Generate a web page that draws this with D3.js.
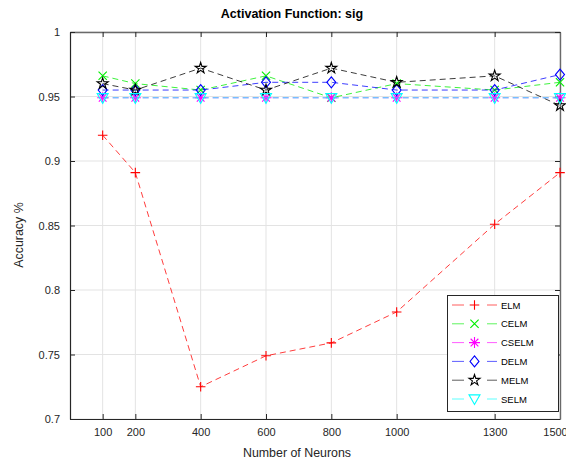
<!DOCTYPE html>
<html><head><meta charset="utf-8">
<script src="https://cdn.jsdelivr.net/npm/d3@7"></script>
<style>body{margin:0;background:#fff}text{font-family:"Liberation Sans",Arial,sans-serif}</style>
</head><body><svg id="c" width="566" height="463"></svg>
<script>
const neurons = [100, 200, 400, 600, 800, 1000, 1300, 1500];
const xTicks = [100, 200, 400, 600, 800, 1000, 1300, 1500];
const yTicks = [0.7, 0.75, 0.8, 0.85, 0.9, 0.95, 1];
const seriesNames = ["ELM", "CELM", "CSELM", "DELM", "MELM", "SELM"];
const elm   = [0.920, 0.891, 0.725, 0.749, 0.759, 0.783, 0.851, 0.891];
const celm  = [0.966, 0.960, 0.955, 0.966, 0.949, 0.960, 0.955, 0.961];
const cselm = [0.949, 0.949, 0.949, 0.949, 0.949, 0.949, 0.949, 0.949];
const delm  = [0.955, 0.955, 0.955, 0.961, 0.961, 0.955, 0.955, 0.967];
const melm  = [0.960, 0.955, 0.972, 0.955, 0.972, 0.961, 0.966, 0.943];
const selm  = [0.949, 0.949, 0.949, 0.949, 0.949, 0.949, 0.949, 0.949];
const seriesValues = [elm, celm, cselm, delm, melm, selm];
const colors = ["#ff0000", "#00ee00", "#ff00ff", "#0000ff", "#000000", "#00ffff"];
const markers = ["plus", "x", "star", "diamond", "pentagram", "tridown"];

const svg = d3.select("#c");
const L = 70, R = 560, T = 32, B = 419;
const x = d3.scaleLinear().domain([0, 1500]).range([L, R]);
const y = d3.scaleLinear().domain([0.7, 1]).range([B, T]);

// grid
const g = svg.append("g");
g.selectAll(".gx").data(xTicks).enter().append("line")
  .attr("x1", d => x(d)).attr("x2", d => x(d)).attr("y1", T).attr("y2", B)
  .attr("stroke", "#e3e3e3").attr("stroke-width", 1);
g.selectAll(".gy").data(yTicks).enter().append("line")
  .attr("y1", d => y(d)).attr("y2", d => y(d)).attr("x1", L).attr("x2", R)
  .attr("stroke", "#e3e3e3").attr("stroke-width", 1);

// axes
const tickC = "#262626";
const ax = svg.append("g").attr("transform", `translate(0,${B})`)
  .call(d3.axisBottom(x).tickValues(xTicks).tickSizeInner(-5).tickSizeOuter(0).tickPadding(9).tickFormat(d3.format("d")));
const axT = svg.append("g").attr("transform", `translate(0,${T})`)
  .call(d3.axisTop(x).tickValues(xTicks).tickSizeInner(-5).tickSizeOuter(0).tickFormat(""));
const ay = svg.append("g").attr("transform", `translate(${L},0)`)
  .call(d3.axisLeft(y).tickValues(yTicks).tickSizeInner(-5).tickSizeOuter(0).tickPadding(10).tickFormat(d => d3.format("")(+d.toFixed(2))));
const ayR = svg.append("g").attr("transform", `translate(${R},0)`)
  .call(d3.axisRight(y).tickValues(yTicks).tickSizeInner(-5).tickSizeOuter(0).tickFormat(""));
[ax, ay].forEach(a => a.select(".domain").attr("stroke", tickC).attr("stroke-width", 1.2));
[axT, ayR].forEach(a => a.select(".domain").attr("stroke", "#6a6a6a").attr("stroke-width", 1.4));
[ax, axT, ay, ayR].forEach(a => {
  a.selectAll(".tick line").attr("stroke", tickC);
  a.selectAll("text").attr("fill", "#262626").style("font-size", "11px");
});
// last x label sits against the right edge, as in the reference
ax.selectAll(".tick text").filter(d => d === 1500).attr("dx", -5);

// marker path generator
function markerPath(type, s) {
  const h = s / 2;
  switch (type) {
    case "plus": { const a = h * 0.87; return `M${-a},0L${a},0M0,${-a}L0,${a}`; }
    case "x": { const a = h * 0.75; return `M${-a},${-a}L${a},${a}M${-a},${a}L${a},${-a}`; }
    case "star": { const a = h * 0.7; return `M${-h},0L${h},0M0,${-h}L0,${h}M${-a},${-a}L${a},${a}M${-a},${a}L${a},${-a}`; }
    case "diamond": return `M0,${-h}L${h * 0.82},0L0,${h}L${-h * 0.82},0Z`;
    case "pentagram": {
      let p = [];
      const ro = h * 1.05, ri = ro * 0.382;
      for (let i = 0; i < 10; i++) {
        const r = i % 2 ? ri : ro;
        const a = -Math.PI / 2 + i * Math.PI / 5;
        p.push([r * Math.cos(a), r * Math.sin(a)]);
      }
      return "M" + p.map(q => q.join(",")).join("L") + "Z";
    }
    case "tridown": return `M${-h},${-h * 0.75}L${h},${-h * 0.75}L0,${h}Z`;
  }
}

const line = d3.line().x((d, i) => x(neurons[i])).y(d => y(d));
seriesValues.forEach((vals, k) => {
  svg.append("path").datum(vals).attr("d", line)
    .attr("fill", "none").attr("stroke", colors[k]).attr("stroke-width", 0.9)
    .attr("stroke-dasharray", "6,4").attr("opacity", 0.85);
  svg.selectAll(".m" + k).data(vals).enter().append("path")
    .attr("transform", (d, i) => `translate(${x(neurons[i])},${y(d)})`)
    .attr("d", markerPath(markers[k], 11))
    .attr("fill", "none").attr("stroke", colors[k]).attr("stroke-width", 1.1);
});

// legend
const lg = svg.append("g");
lg.append("rect").attr("x", 447.5).attr("y", 295.5).attr("width", 111).attr("height", 116)
  .attr("fill", "#fff").attr("stroke", "#262626").attr("stroke-width", 1);
seriesNames.forEach((n, k) => {
  const yy = 305 + k * 18.8;
  lg.append("line").attr("x1", 452).attr("x2", 464).attr("y1", yy).attr("y2", yy)
    .attr("stroke", colors[k]).attr("stroke-width", 0.9).attr("opacity", 0.7);
  lg.append("line").attr("x1", 487).attr("x2", 497).attr("y1", yy).attr("y2", yy)
    .attr("stroke", colors[k]).attr("stroke-width", 0.9).attr("opacity", 0.7);
  lg.append("path").attr("transform", `translate(474.5,${yy})`).attr("d", markerPath(markers[k], 11))
    .attr("fill", "none").attr("stroke", colors[k]).attr("stroke-width", 1.1);
  lg.append("text").attr("x", 501).attr("y", yy + 3.5).text(n)
    .style("font-size", "9.5px").attr("fill", "#000");
});

// labels
svg.append("text").attr("x", 292).attr("y", 18).attr("text-anchor", "middle")
  .style("font-size", "12.5px").style("font-weight", "bold").attr("fill", "#000").text("Activation Function: sig");
svg.append("text").attr("x", 297).attr("y", 457).attr("text-anchor", "middle")
  .style("font-size", "12.4px").attr("fill", "#262626").text("Number of Neurons");
svg.append("text").attr("transform", "translate(23,235) rotate(-90)").attr("text-anchor", "middle")
  .style("font-size", "12.4px").attr("fill", "#262626").text("Accuracy %");
</script></body></html>
